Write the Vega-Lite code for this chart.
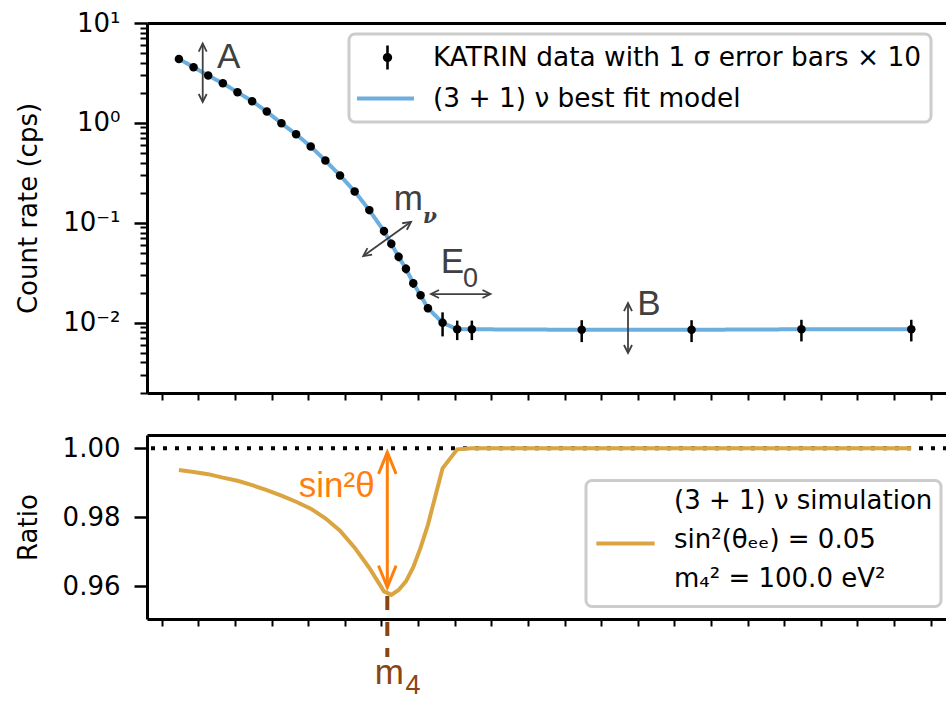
{
  "$schema": "https://vega.github.io/schema/vega-lite/v6.json",
  "autosize": {"type": "pad"},
  "padding": {"left": 15, "top": 10, "right": 0, "bottom": 0},
  "background": "white",
  "config": {
    "font": "DejaVu Sans",
    "view": {"stroke": null},
    "axis": {"labelFont": "DejaVu Sans", "titleFont": "DejaVu Sans", "labelFontSize": 26, "titleFontSize": 26, "titleFontWeight": "normal", "labelColor": "black", "titleColor": "black", "domainColor": "black", "tickColor": "black", "grid": false, "labelFlush": false, "labelOverlap": false},
    "legend": {"labelFont": "DejaVu Sans", "labelFontSize": 26, "labelColor": "black", "strokeWidth": 3}
  },
  "datasets": {
    "spectrum": [
      {"x": 0.47, "rate": 4.37, "err": 0.1, "ratio": 0.9937},
      {"x": 0.87, "rate": 3.61, "err": 0.09, "ratio": 0.9931},
      {"x": 1.27, "rate": 2.98, "err": 0.08, "ratio": 0.9925},
      {"x": 1.67, "rate": 2.49, "err": 0.07, "ratio": 0.9915},
      {"x": 2.07, "rate": 2.03, "err": 0.06, "ratio": 0.9906},
      {"x": 2.47, "rate": 1.65, "err": 0.05, "ratio": 0.9893},
      {"x": 2.87, "rate": 1.30, "err": 0.045, "ratio": 0.9879},
      {"x": 3.27, "rate": 0.99, "err": 0.04, "ratio": 0.9863},
      {"x": 3.67, "rate": 0.77, "err": 0.035, "ratio": 0.9845},
      {"x": 4.07, "rate": 0.58, "err": 0.03, "ratio": 0.9825},
      {"x": 4.47, "rate": 0.42, "err": 0.025, "ratio": 0.9797},
      {"x": 4.87, "rate": 0.298, "err": 0.02, "ratio": 0.9761},
      {"x": 5.27, "rate": 0.206, "err": 0.016, "ratio": 0.9712},
      {"x": 5.67, "rate": 0.134, "err": 0.012, "ratio": 0.9653},
      {"x": 6.07, "rate": 0.0826, "err": 0.008, "ratio": 0.9585},
      {"x": 6.27, "rate": 0.0617, "err": 0.006, "ratio": 0.9575},
      {"x": 6.47, "rate": 0.0457, "err": 0.0045, "ratio": 0.9589},
      {"x": 6.67, "rate": 0.0347, "err": 0.0035, "ratio": 0.9614},
      {"x": 6.87, "rate": 0.0249, "err": 0.0025, "ratio": 0.9655},
      {"x": 7.07, "rate": 0.0188, "err": 0.0015, "ratio": 0.9712},
      {"x": 7.27, "rate": 0.0140, "err": 0.0013, "ratio": 0.9778},
      {"x": 7.67, "rate": 0.0100, "err": 0.0027, "ratio": 0.9942},
      {"x": 8.07, "rate": 0.0086, "err": 0.0019, "ratio": 0.9997},
      {"x": 8.47, "rate": 0.0086, "err": 0.0019, "ratio": 1.0},
      {"x": 11.47, "rate": 0.0085, "err": 0.0021, "ratio": 1.0},
      {"x": 14.47, "rate": 0.0085, "err": 0.0021, "ratio": 1.0},
      {"x": 17.47, "rate": 0.0086, "err": 0.0021, "ratio": 1.0},
      {"x": 20.47, "rate": 0.0086, "err": 0.0021, "ratio": 1.0}
    ],
    "arrows": [
      {"panel": "top", "kind": "param", "x": 1.12, "y": 6.22, "x2": 1.12, "y2": 1.62},
      {"panel": "top", "kind": "param", "x": 5.505, "y": 0.0465, "x2": 6.808, "y2": 0.1023},
      {"panel": "top", "kind": "param", "x": 7.354, "y": 0.01936, "x2": 8.979, "y2": 0.01936},
      {"panel": "top", "kind": "param", "x": 12.734, "y": 0.01574, "x2": 12.734, "y2": 0.00498},
      {"panel": "bottom", "kind": "mix", "x": 6.161, "y": 0.99884, "x2": 6.161, "y2": 0.95971},
      {"panel": "bottom", "kind": "mass", "x": 6.161, "y": 0.9572, "x2": 6.161, "y2": 0.9395}
    ],
    "heads": [
      {"panel": "top", "x": 1.12, "y": 6.22, "dir": "up"},
      {"panel": "top", "x": 1.12, "y": 1.62, "dir": "down"},
      {"panel": "top", "x": 6.808, "y": 0.1023, "dir": "upright"},
      {"panel": "top", "x": 5.505, "y": 0.0465, "dir": "downleft"},
      {"panel": "top", "x": 7.354, "y": 0.01936, "dir": "left"},
      {"panel": "top", "x": 8.979, "y": 0.01936, "dir": "right"},
      {"panel": "top", "x": 12.734, "y": 0.01574, "dir": "up"},
      {"panel": "top", "x": 12.734, "y": 0.00498, "dir": "down"},
      {"panel": "bottom", "x": 6.161, "y": 0.99884, "dir": "up"},
      {"panel": "bottom", "x": 6.161, "y": 0.95971, "dir": "down"}
    ],
    "labels": [
      {"panel": "top", "kind": "big", "text": "A", "x": 1.51, "y": 3.52},
      {"panel": "top", "kind": "big", "text": "m", "x": 6.335, "y": 0.134},
      {"panel": "top", "kind": "greek", "text": "ν", "x": 7.136, "y": 0.0993},
      {"panel": "top", "kind": "big", "text": "E", "x": 7.619, "y": 0.03141},
      {"panel": "top", "kind": "small", "text": "0", "x": 8.23, "y": 0.02291},
      {"panel": "top", "kind": "big", "text": "B", "x": 12.985, "y": 0.01194},
      {"panel": "bottom", "kind": "mix", "text": "sin²θ", "x": 3.744, "y": 0.98597},
      {"panel": "bottom", "kind": "massbig", "text": "m", "x": 5.817, "y": 0.93168},
      {"panel": "bottom", "kind": "masssmall", "text": "4", "x": 6.658, "y": 0.92878}
    ]
  },
  "resolve": {"scale": {"color": "independent", "shape": "independent", "strokeDash": "independent"}},
  "spacing": 34,
  "vconcat": [
    {
      "width": 799,
      "height": 370,
      "resolve": {"axis": {"x": "independent", "y": "independent"}, "scale": {"shape": "independent"}},
      "layer": [
        {
          "data": {"name": "spectrum"},
          "mark": {"type": "line", "strokeWidth": 4, "clip": false, "color": "#6CAEDE"},
          "encoding": {
            "x": {"field": "x", "type": "quantitative", "scale": {"domain": [-0.4014, 21.418], "nice": false, "zero": false},
              "axis": {"orient": "bottom", "values": [0,1,2,3,4,5,6,7,8,9,10,11,12,13,14,15,16,17,18,19,20,21], "labels": false, "tickSize": 7, "tickWidth": 2, "domainWidth": 3, "title": null}},
            "y": {"field": "rate", "type": "quantitative", "scale": {"type": "log", "domain": [0.00198, 10], "nice": false},
              "axis": {"orient": "left", "values": [0.01, 0.1, 1, 10], "labelExpr": "datum.value >= 5 ? '10¹' : datum.value >= 0.5 ? '10⁰' : datum.value >= 0.05 ? '10⁻¹' : '10⁻²'", "tickSize": 13, "tickWidth": 2.5, "domainWidth": 3, "labelPadding": 14, "title": "Count rate (cps)", "titlePadding": 14, "minExtent": 92, "maxExtent": 92}},
            "strokeDash": {"datum": "(3 + 1) ν best fit model", "type": "nominal",
              "scale": {"range": [[1, 0]]},
              "legend": {"orient": "none", "legendX": 198, "legendY": 52, "zindex": 2, "title": null, "padding": 10, "strokeColor": null, "fillColor": null, "labelOffset": 17, "labelLimit": 800, "labelFontSize": 26.4, "symbolType": "stroke", "symbolSize": 3249, "symbolStrokeWidth": 4, "symbolStrokeColor": "#6CAEDE", "clipHeight": 27}}
          }
        },
        {
          "data": {"name": "spectrum"},
          "mark": {"type": "errorbar", "thickness": 2.5, "color": "black"},
          "encoding": {
            "x": {"field": "x", "type": "quantitative", "axis": null},
            "y": {"field": "rate", "type": "quantitative", "axis": null},
            "yError": {"field": "err"}
          }
        },
        {
          "data": {"name": "spectrum"},
          "mark": {"type": "point", "filled": true, "size": 72, "opacity": 1, "strokeWidth": 0},
          "encoding": {
            "x": {"field": "x", "type": "quantitative", "axis": {"orient": "top", "ticks": false, "labels": false, "domainWidth": 3, "title": null}},
            "y": {"field": "rate", "type": "quantitative",
              "axis": {"orient": "left", "values": [0.002,0.003,0.004,0.005,0.006,0.007,0.008,0.009,0.02,0.03,0.04,0.05,0.06,0.07,0.08,0.09,0.2,0.3,0.4,0.5,0.6,0.7,0.8,0.9,2,3,4,5,6,7,8,9], "labels": false, "domain": false, "tickSize": 7, "tickWidth": 2, "title": null, "minExtent": 92, "maxExtent": 92}},
            "color": {"datum": "KATRIN data with 1 σ error bars × 10", "type": "nominal",
              "scale": {"domain": ["KATRIN data with 1 σ error bars × 10", " "], "range": ["black", "transparent"]},
              "legend": {"orient": "none", "legendX": 202, "legendY": 11, "zindex": 1, "title": null, "padding": 10, "strokeColor": "#cccccc", "cornerRadius": 6, "fillColor": "white", "labelOffset": 17, "labelLimit": 800, "labelFontSize": 26.4, "symbolType": "M0.165,0L0.1524,0.0631L0.1167,0.1167L0.0631,0.1524L0,0.165L-0.0631,0.1524L-0.1167,0.1167L-0.1524,0.0631L-0.165,0L-0.1524,-0.0631L-0.1167,-0.1167L-0.0631,-0.1524L0,-0.165L0.0631,-0.1524L0.1167,-0.1167L0.1524,-0.0631Z M-0.045,-0.42L0.045,-0.42L0.045,0.42L-0.045,0.42Z", "symbolSize": 3249, "symbolStrokeWidth": 0, "clipHeight": 27, "rowPadding": 14}}
          }
        },
        {
          "data": {"name": "arrows"},
          "transform": [{"filter": "datum.panel == 'top'"}],
          "mark": {"type": "rule", "color": "#404040", "strokeWidth": 1.8, "clip": false},
          "encoding": {
            "x": {"field": "x", "type": "quantitative", "axis": null},
            "y": {"field": "y", "type": "quantitative", "axis": null},
            "x2": {"field": "x2"},
            "y2": {"field": "y2"}
          }
        },
        {
          "data": {"name": "heads"},
          "transform": [{"filter": "datum.panel == 'top'"}],
          "mark": {"type": "point", "filled": false, "size": 100, "strokeWidth": 1.8, "color": "#404040", "opacity": 1, "clip": false},
          "encoding": {
            "x": {"field": "x", "type": "quantitative", "axis": null},
            "y": {"field": "y", "type": "quantitative", "axis": null},
            "shape": {"field": "dir", "type": "nominal", "legend": null,
              "scale": {"domain": ["up", "down", "left", "right", "upright", "downleft"],
                "range": ["M-0.8,1.6L0,0L0.8,1.6", "M-0.8,-1.6L0,0L0.8,-1.6", "M1.6,-0.8L0,0L1.6,0.8", "M-1.6,-0.8L0,0L-1.6,0.8", "M-1.766,0.284L0,0L-0.832,1.584", "M1.766,-0.284L0,0L0.832,-1.584"]}}
          }
        },
        {
          "data": {"name": "labels"},
          "transform": [{"filter": "datum.kind == 'big'"}],
          "mark": {"type": "text", "align": "left", "baseline": "alphabetic", "font": "Liberation Sans", "fontSize": 35, "color": "#404040"},
          "encoding": {
            "x": {"field": "x", "type": "quantitative", "axis": null},
            "y": {"field": "y", "type": "quantitative", "axis": null},
            "text": {"field": "text"}
          }
        },
        {
          "data": {"name": "labels"},
          "transform": [{"filter": "datum.kind == 'greek'"}],
          "mark": {"type": "text", "align": "left", "baseline": "alphabetic", "font": "DejaVu Serif", "fontStyle": "italic", "fontWeight": "bold", "fontSize": 20, "color": "#404040"},
          "encoding": {
            "x": {"field": "x", "type": "quantitative", "axis": null},
            "y": {"field": "y", "type": "quantitative", "axis": null},
            "text": {"field": "text"}
          }
        },
        {
          "data": {"name": "labels"},
          "transform": [{"filter": "datum.kind == 'small'"}],
          "mark": {"type": "text", "align": "left", "baseline": "alphabetic", "font": "Liberation Sans", "fontSize": 27, "color": "#404040"},
          "encoding": {
            "x": {"field": "x", "type": "quantitative", "axis": null},
            "y": {"field": "y", "type": "quantitative", "axis": null},
            "text": {"field": "text"}
          }
        }
      ]
    },
    {
      "width": 799,
      "height": 184,
      "resolve": {"axis": {"x": "independent", "y": "independent"}},
      "layer": [
        {
          "data": {"values": [{}]},
          "mark": {"type": "rule", "color": "black", "strokeWidth": 4, "strokeDash": [4, 8], "strokeDashOffset": 1, "strokeCap": "butt"},
          "encoding": {
            "y": {"datum": 1, "type": "quantitative", "axis": null}
          }
        },
        {
          "data": {"name": "spectrum"},
          "mark": {"type": "line", "strokeWidth": 4, "clip": false},
          "encoding": {
            "x": {"field": "x", "type": "quantitative", "scale": {"domain": [-0.4014, 21.418], "nice": false, "zero": false},
              "axis": {"orient": "bottom", "values": [0,1,2,3,4,5,6,7,8,9,10,11,12,13,14,15,16,17,18,19,20,21], "labels": false, "tickSize": 7, "tickWidth": 2, "domainWidth": 3, "title": null}},
            "y": {"field": "ratio", "type": "quantitative", "scale": {"domain": [0.9505, 1.00386], "nice": false, "zero": false},
              "axis": {"orient": "left", "values": [0.96, 0.98, 1.0], "format": ".2f", "tickSize": 13, "tickWidth": 2.5, "domainWidth": 3, "labelPadding": 14, "title": "Ratio", "titlePadding": 14, "minExtent": 92, "maxExtent": 92}},
            "color": {"datum": "(3 + 1) ν simulation|sin²(θₑₑ) = 0.05|m₄² = 100.0 eV²", "type": "nominal",
              "scale": {"range": ["#DAA540"]},
              "legend": {"orient": "none", "legendX": 439, "legendY": 45.5, "title": null, "padding": 8, "strokeColor": "#cccccc", "cornerRadius": 6, "fillColor": "white", "labelOffset": 17, "labelLimit": 800, "symbolType": "stroke", "symbolSize": 3400, "symbolStrokeWidth": 4, "symbolStrokeColor": "#DAA540", "clipHeight": 110,
                "labelExpr": "split(datum.label, '|')",
                "encode": {"labels": {"update": {"lineHeight": {"value": 39}, "dy": {"value": -43}}}}}}
          }
        },
        {
          "data": {"name": "arrows"},
          "transform": [{"filter": "datum.kind == 'mix'"}],
          "mark": {"type": "rule", "color": "#FF7F0E", "strokeWidth": 3, "clip": false},
          "encoding": {
            "x": {"field": "x", "type": "quantitative", "axis": {"orient": "top", "ticks": false, "labels": false, "domainWidth": 3, "title": null}},
            "y": {"field": "y", "type": "quantitative", "axis": null},
            "x2": {"field": "x2"},
            "y2": {"field": "y2"}
          }
        },
        {
          "data": {"name": "heads"},
          "transform": [{"filter": "datum.panel == 'bottom'"}],
          "mark": {"type": "point", "filled": false, "size": 729, "strokeWidth": 3, "color": "#FF7F0E", "opacity": 1, "clip": false},
          "encoding": {
            "x": {"field": "x", "type": "quantitative", "axis": null},
            "y": {"field": "y", "type": "quantitative", "axis": null},
            "shape": {"field": "dir", "type": "nominal", "legend": null,
              "scale": {"domain": ["up", "down"], "range": ["M-0.65,1.6L0,0L0.65,1.6", "M-0.65,-1.6L0,0L0.65,-1.6"]}}
          }
        },
        {
          "data": {"name": "arrows"},
          "transform": [{"filter": "datum.kind == 'mass'"}],
          "mark": {"type": "rule", "color": "#8B4513", "strokeWidth": 4, "strokeDash": [14, 12], "strokeCap": "butt", "clip": false},
          "encoding": {
            "x": {"field": "x", "type": "quantitative", "axis": null},
            "y": {"field": "y", "type": "quantitative", "axis": null},
            "x2": {"field": "x2"},
            "y2": {"field": "y2"}
          }
        },
        {
          "data": {"name": "labels"},
          "transform": [{"filter": "datum.kind == 'mix'"}],
          "mark": {"type": "text", "align": "left", "baseline": "alphabetic", "font": "Liberation Sans", "fontSize": 35, "color": "#FF7F0E"},
          "encoding": {
            "x": {"field": "x", "type": "quantitative", "axis": null},
            "y": {"field": "y", "type": "quantitative", "axis": null},
            "text": {"field": "text"}
          }
        },
        {
          "data": {"name": "labels"},
          "transform": [{"filter": "datum.kind == 'massbig'"}],
          "mark": {"type": "text", "align": "left", "baseline": "alphabetic", "font": "Liberation Sans", "fontSize": 35, "color": "#8B4513", "clip": false},
          "encoding": {
            "x": {"field": "x", "type": "quantitative", "axis": null},
            "y": {"field": "y", "type": "quantitative", "axis": null},
            "text": {"field": "text"}
          }
        },
        {
          "data": {"name": "labels"},
          "transform": [{"filter": "datum.kind == 'masssmall'"}],
          "mark": {"type": "text", "align": "left", "baseline": "alphabetic", "font": "Liberation Sans", "fontSize": 27, "color": "#8B4513", "clip": false},
          "encoding": {
            "x": {"field": "x", "type": "quantitative", "axis": null},
            "y": {"field": "y", "type": "quantitative", "axis": null},
            "text": {"field": "text"}
          }
        }
      ]
    }
  ]
}
